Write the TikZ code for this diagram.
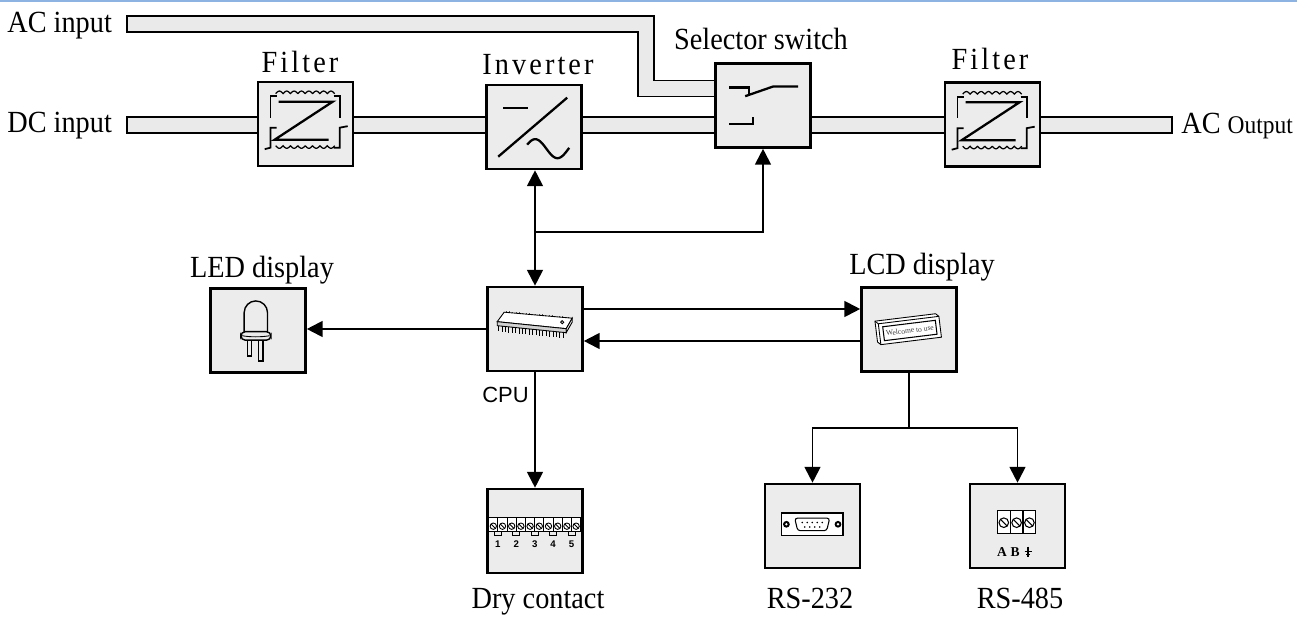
\documentclass[tikz,border=0pt]{standalone}
\usepackage{fontspec}
\setmainfont[FakeStretch=0.92]{Liberation Serif}
\setsansfont{Liberation Sans}
\newfontfamily\trackedfont[LetterSpace=10,FakeStretch=0.92]{Liberation Serif}
\newfontfamily\plainserif{Liberation Serif}
\usetikzlibrary{arrows.meta,backgrounds,calc}
\definecolor{boxfill}{RGB}{236,236,236}
\definecolor{busfill}{RGB}{234,234,234}
\definecolor{topblue}{RGB}{141,179,226}
\newcommand\filtersym{%
  \draw[line width=0.7pt] plot[domain=0:59,samples=120] ({19+\x},{13-2.6*abs(sin(\x*180/7.375))});
  \draw[line width=0.7pt] plot[domain=0:59,samples=120] ({19+\x},{65+2.6*abs(sin(\x*180/7.375))});
  \draw[line width=1pt] (20,15.5) -- (13.7,15.5) -- (13.7,37);
  \draw[line width=1pt] (77,15.5) -- (83,15.5) -- (83,37);
  \draw[line width=1pt] (20,47) -- (13.7,47) -- (13.7,67) -- (8,68.5);
  \draw[line width=1pt] (91,45.5) -- (83,47) -- (83,67) -- (77,67);
  \draw[line width=1.3pt] (22,21) -- (76,21) -- (18,59) -- (72,59);
}
\begin{document}
\begin{tikzpicture}[x=0.02cm,y=-0.02cm,
  blk/.style={draw,line width=1.5pt,fill=boxfill,minimum width=1.9cm,minimum height=1.68cm,inner sep=0pt},
  arr/.style={line width=1.1pt,-{Triangle[length=9pt,width=9pt]}},
  plainline/.style={line width=1.1pt},
  bus/.style={line width=0.85pt,draw=black,double=busfill,double distance=0.29cm},
  buscap/.style={line width=0.85pt},
  lbl/.style={font=\fontsize{17.5}{21}\selectfont,inner sep=0pt,anchor=base},
  tlbl/.style={font=\fontsize{17.5}{21}\trackedfont,inner sep=0pt,anchor=base}]
\useasboundingbox (0,0) rectangle (1297,617);

% boxes
\node[blk] (filA) at (305.5,124) {};
\node[blk] (inv) at (534,127) {};
\node[blk] (sel) at (763,105.5) {};
\node[blk] (filB) at (992.5,124.5) {};
\node[blk] (led) at (258,330.5) {};
\node[blk] (cpu) at (535,329) {};
\node[blk] (lcd) at (909,329.5) {};
\node[blk] (dry) at (535,531) {};
\node[blk] (rsa) at (812.5,526) {};
\node[blk] (rsb) at (1017.5,526) {};

% labels
\node[lbl,anchor=base west] (tAC) at (7,33) {AC input};
\node[lbl,anchor=base west] (tDC) at (7,133) {DC input};
\node[tlbl] (tFA) at (300,73) {Filter};
\node[tlbl] (tInv) at (538,75) {Inverter};
\node[lbl] (tSel) at (761,50) {Selector switch};
\node[tlbl] (tFB) at (990,70) {Filter};
\node[lbl,anchor=base west] (tOut) at (1181,134) {AC {\fontsize{14.5}{16}\selectfont Output}};
\node[lbl] (tLED) at (262,278) {LED display};
\node[lbl] (tLCD) at (922,275) {LCD display};
\node[font=\sffamily\fontsize{12.5}{15}\selectfont,inner sep=0pt,anchor=base west] (tCPU) at (482,403) {CPU};
\node[lbl] (tDry) at (538,608) {Dry contact};
\node[lbl] (tR1) at (810,608) {RS-232};
\node[lbl] (tR2) at (1020,608) {RS-485};

% background, buses
\begin{scope}[on background layer]
  \fill[white] (0,0) rectangle (1297,617);
  \fill[topblue] (0,0) rectangle (1297,2.5);
  \coordinate (acL) at (127,24);
  \coordinate (acA) at (646,24);
  \coordinate (acB) at (646,88.5);
  \draw[bus] (acL) -- (acA) -- (acB) -- (acB -| sel.west);
  \coordinate (dcL) at (127,125);
  \coordinate (acR) at (1172,125);
  \draw[bus] (dcL) -- (dcL -| filA.west);
  \draw[bus] (filA.east |- dcL) -- (inv.west |- dcL);
  \draw[bus] (inv.east |- dcL) -- (sel.west |- dcL);
  \draw[bus] (sel.east |- dcL) -- (filB.west |- dcL);
  \draw[bus] (filB.east |- dcL) -- (acR);
\end{scope}
\draw[buscap] ($(acL)+(0,-8.8)$) -- ($(acL)+(0,8.8)$);
\draw[buscap] ($(dcL)+(0,-8.8)$) -- ($(dcL)+(0,8.8)$);
\draw[buscap] ($(acR)+(0,-8.8)$) -- ($(acR)+(0,8.8)$);

% signal connectors
\coordinate (j1) at (535,232);
\draw[arr] (j1) -- (j1 |- inv.south);
\draw[arr] (j1) -- (cpu.north);
\draw[arr] (j1) -| (sel.south);
\draw[arr] (cpu.west) -- (cpu.west -| led.east);
\draw[arr] (cpu.east |- 0,309) -- (lcd.west |- 0,309);
\draw[arr] (lcd.west |- 0,341) -- (cpu.east |- 0,341);
\coordinate (j2) at (909,428);
\draw[plainline] (lcd.south) -- (j2);
\draw[arr] (j2) -| (rsa.north);
\draw[arr] (j2) -| (rsb.north);
\draw[arr] (cpu.south) -- (dry.north);

% filter icons
\begin{scope}[shift={(filA.north west)}] \filtersym \end{scope}
\begin{scope}[shift={(filB.north west)}] \filtersym \end{scope}

% inverter icon
\begin{scope}[shift={(inv.north west)},line width=1.3pt]
  \draw (18,24.3) -- (43,24.3);
  \draw (82,14) -- (13,73);
  \draw plot[domain=0:40,samples=60,smooth] ({42+\x*1.05},{65-9.5*sin(25+\x*8.5)});
\end{scope}

% selector icon
\begin{scope}[shift={(sel.north west)},line width=1.3pt]
  \draw (15,25.3) -- (35,25.3) -- (35,32);
  \draw (31,34) -- (59,24.3) -- (84,24.3);
  \draw (15,62) -- (38.7,62) -- (38.7,55.3);
\end{scope}

% LED icon
\begin{scope}[shift={(led.north west)},line width=0.8pt]
  \filldraw[fill=boxfill] (35,47) -- (35,25.4) arc (180:360:11.65) -- (58.3,47);
  \filldraw[fill=boxfill] (38.3,51) rectangle (42.3,68.7);
  \filldraw[fill=boxfill] (49.3,51) rectangle (53.7,73.7);
  \filldraw[fill=boxfill,rounded corners=2.5pt] (31.7,44.5) rectangle (61.7,53);
  \draw[line width=0.5pt] (33,48.5) .. controls (40,50) and (53,50) .. (60.4,48.5);
\end{scope}

% CPU chip icon
\begin{scope}[shift={(cpu.north west)},line width=0.5pt]
  \foreach \i in {0,...,19} \draw[black!70] ({20+\i*3.3},{28+\i*0.3}) -- ++(0,-2.5);
  \filldraw[fill=white] (11,36) -- (18,26.5) -- (86,32.5) -- (80,43) -- cycle;
  \filldraw[fill=gray!35] (11,36) -- (80,43) -- (80,47) -- (11,40) -- cycle;
  \filldraw[fill=gray!20] (80,43) -- (86,32.5) -- (86,36.5) -- (80,47) -- cycle;
  \foreach \i in {0,...,19} \draw ({12.5+\i*3.4},{40.3+\i*0.35}) -- ++(0,5.5);
  \draw (76,36.5) circle[radius=1.6];
\end{scope}

% LCD icon
\begin{scope}[shift={(lcd.north west)}]
\begin{scope}[rotate around={7:(48,43)},line width=0.5pt]
  \filldraw[fill=white] (16,31) -- (77,31) -- (80,34) -- (80,55) -- (19,55) -- (16,52) -- cycle;
  \draw (16,31) -- (19,34) -- (80,34);
  \draw (19,34) -- (19,55);
  \filldraw[fill=white,line width=0.6pt] (23,37.5) rectangle (76,51.5);
  \node[transform shape,font=\plainserif\fontsize{4.3}{5}\selectfont,text=black!75,inner sep=0pt] (wtxt) at (49.5,44.5) {Welcome to use};
\end{scope}
\end{scope}

% dry contact icon
\begin{scope}[shift={(dry.north west)},line width=0.5pt]
  \filldraw[fill=white,line width=0.6pt] (2.5,29.5) rectangle (94.5,43.7);
  \foreach \i in {1,...,9} \draw ({2.5+\i*9.2},29.5) -- ++(0,14.2);
  \foreach \i in {0,...,9} {
    \draw ({7.1+\i*9.2},38.5) circle[radius=3.2];
    \draw ({4.9+\i*9.2},36.3) -- ({9.3+\i*9.2},40.7);
  }
  \foreach \i in {1,...,5} {
    \draw ({2.5+(2*\i-1)*9.2-3.5},43.7) rectangle ({2.5+(2*\i-1)*9.2+3.5},48);
    \node[font=\sffamily\bfseries\fontsize{5.5}{6}\selectfont,inner sep=0pt] (dn\i) at ({2.5+(2*\i-1)*9.2},56.5) {\i};
  }
\end{scope}

% RS-232 icon
\begin{scope}[shift={(rsa.north west)},line width=0.6pt]
  \filldraw[fill=white] (17.7,30.3) rectangle (79.3,53);
  \fill (22.7,41.6) circle[radius=3.4];
  \fill[white] (22.7,41.6) circle[radius=1.3];
  \fill (74.3,41.6) circle[radius=3.4];
  \fill[white] (74.3,41.6) circle[radius=1.3];
  \filldraw[fill=white,rounded corners=1.5pt] (31,35.5) -- (66,35.5) -- (63,48) -- (34,48) -- cycle;
  \foreach \i in {0,...,4} \fill ({38.5+\i*5},39.8) circle[radius=0.9];
  \foreach \i in {0,...,3} \fill ({41+\i*5},44.3) circle[radius=0.9];
\end{scope}

% RS-485 icon
\begin{scope}[shift={(rsb.north west)},line width=0.6pt]
  \filldraw[fill=white] (28.7,27.7) rectangle (67,51);
  \draw (41.5,27.7) -- (41.5,51);
  \draw (54.3,27.7) -- (54.3,51);
  \foreach \c in {35.1,47.9,60.7} {
    \draw (\c,40) circle[radius=4.8];
    \draw (\c-3.4,36.6) -- (\c+3.4,43.4);
  }
  \node[font=\plainserif\bfseries\fontsize{7.7}{8}\selectfont,inner sep=0pt,anchor=base] (rA) at (33.3,74) {A};
  \node[font=\plainserif\bfseries\fontsize{7.7}{8}\selectfont,inner sep=0pt,anchor=base] (rB) at (46.5,74) {B};
  \draw (59.3,64) -- (59.3,74);
  \draw (55.8,68.5) -- (62.8,68.5);
  \draw (57.3,71.5) -- (61.3,71.5);
\end{scope}
\end{tikzpicture}
\end{document}
